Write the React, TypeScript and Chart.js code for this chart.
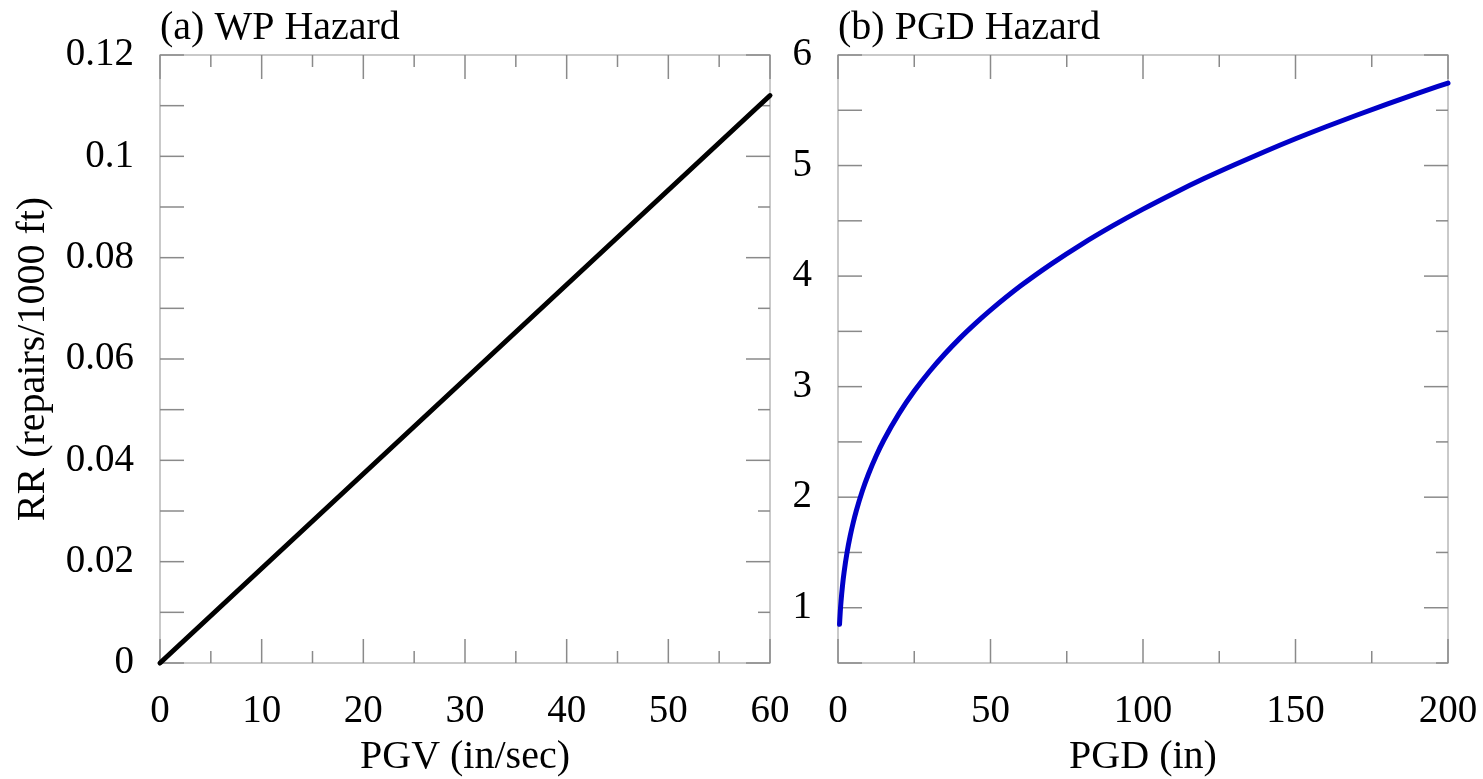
import React, { useEffect, useRef } from 'react';
import { Chart, registerables } from 'chart.js';

Chart.register(...registerables);

const FONT = "'Liberation Serif', 'Times New Roman', Times, serif";

// ---------- Panel (a) WP Hazard ----------
const pgvValues = [0, 60];
const rrWpValues = [0, 0.112];
const pgvMajorTicks = [0, 10, 20, 30, 40, 50, 60];
const pgvMinorTicks = [5, 15, 25, 35, 45, 55];
const rrWpMajorTicks = [0, 0.02, 0.04, 0.06, 0.08, 0.1, 0.12];
const rrWpTickLabels = ['0', '0.02', '0.04', '0.06', '0.08', '0.1', '0.12'];
const rrWpMinorTicks = [0.01, 0.03, 0.05, 0.07, 0.09, 0.11];

// ---------- Panel (b) PGD Hazard ----------
const pgdValues = [0.5, 0.75, 1, 1.5, 2, 3, 4, 5, 6, 8, 10, 12.5, 15, 20, 25, 30, 35, 40, 45, 50, 60, 70, 80, 90, 100, 110, 120, 130, 140, 150, 160, 170, 180, 190, 200];
const rrPgdValues = [0.850, 0.967, 1.060, 1.206, 1.322, 1.505, 1.650, 1.771, 1.877, 2.058, 2.210, 2.373, 2.515, 2.756, 2.960, 3.137, 3.295, 3.439, 3.570, 3.692, 3.914, 4.111, 4.290, 4.454, 4.606, 4.748, 4.882, 5.007, 5.127, 5.242, 5.351, 5.455, 5.556, 5.653, 5.746];
const pgdMajorTicks = [0, 50, 100, 150, 200];
const pgdMinorTicks = [25, 75, 125, 175];
const rrPgdMajorTicks = [1, 2, 3, 4, 5, 6];
const rrPgdTickLabels = ['1', '2', '3', '4', '5', '6'];
const rrPgdMinorTicks = [0.5, 1.5, 2.5, 3.5, 4.5, 5.5];

const FRAME_COLOR = '#b8b8b8';
const TICK_COLOR = '#8a8a8a';
const MAJOR_LEN = 24;
const MINOR_LEN = 12;

function makeFramePlugin(xMajor: number[], xMinor: number[], yMajor: number[], yMinor: number[]) {
  return {
    id: 'frameTicks',
    beforeDatasetsDraw(chart: any) {
      const { ctx, chartArea } = chart;
      const { left, right, top, bottom } = chartArea;
      const xs = chart.scales.x;
      const ys = chart.scales.y;
      ctx.save();
      ctx.lineWidth = 1.5;
      ctx.strokeStyle = FRAME_COLOR;
      ctx.strokeRect(left, top, right - left, bottom - top);
      ctx.strokeStyle = TICK_COLOR;
      const seg = (x1: number, y1: number, x2: number, y2: number) => {
        ctx.beginPath();
        ctx.moveTo(x1, y1);
        ctx.lineTo(x2, y2);
        ctx.stroke();
      };
      xMajor.forEach((v) => {
        const p = xs.getPixelForValue(v);
        seg(p, bottom, p, bottom - MAJOR_LEN);
        seg(p, top, p, top + MAJOR_LEN);
      });
      xMinor.forEach((v) => {
        const p = xs.getPixelForValue(v);
        seg(p, bottom, p, bottom - MINOR_LEN);
        seg(p, top, p, top + MINOR_LEN);
      });
      yMajor.forEach((v) => {
        const p = ys.getPixelForValue(v);
        seg(left, p, left + MAJOR_LEN, p);
        seg(right, p, right - MAJOR_LEN, p);
      });
      yMinor.forEach((v) => {
        const p = ys.getPixelForValue(v);
        seg(left, p, left + MAJOR_LEN, p);
        seg(right, p, right - MINOR_LEN, p);
      });
      ctx.restore();
    },
  };
}

function buildConfig(opts: {
  xs: number[]; ys: number[]; color: string; title: string;
  xMin: number; xMax: number; yMin: number; yMax: number;
  xMajor: number[]; xMinor: number[]; yMajor: number[]; yLabels: string[]; yMinor: number[];
  xTitle: string; yTitle: string | null; yAxisWidth: number; padRight: number;
}): any {
  const data = opts.xs.map((x, i) => ({ x, y: opts.ys[i] }));
  const tickFont = { family: FONT, size: 39, weight: 'normal' as const };
  const titleFont = { family: FONT, size: 40, weight: 'normal' as const };
  return {
    type: 'scatter',
    data: {
      datasets: [
        {
          data,
          showLine: true,
          borderColor: opts.color,
          backgroundColor: opts.color,
          borderWidth: 5,
          pointRadius: 0,
          borderCapStyle: 'round',
          borderJoinStyle: 'round',
          cubicInterpolationMode: 'monotone',
          clip: false,
        },
      ],
    },
    options: {
      responsive: false,
      animation: false,
      events: [],
      layout: { padding: { left: 0, right: opts.padRight, top: 0, bottom: 0 } },
      plugins: {
        legend: { display: false },
        tooltip: { enabled: false },
        title: {
          display: true,
          text: opts.title,
          align: 'start',
          fullSize: false,
          color: '#000',
          font: titleFont,
          padding: { top: 4, bottom: 3 },
        },
      },
      scales: {
        x: {
          type: 'linear',
          min: opts.xMin,
          max: opts.xMax,
          grid: { display: false, drawTicks: false },
          border: { display: false },
          afterBuildTicks: (scale: any) => {
            scale.ticks = opts.xMajor.map((v) => ({ value: v }));
          },
          afterFit: (scale: any) => {
            scale.height = 116;
            scale.paddingLeft = 0;
            scale.paddingRight = 0;
          },
          ticks: {
            autoSkip: false,
            maxRotation: 0,
            minRotation: 0,
            padding: 25,
            color: '#000',
            font: tickFont,
            callback: (v: number) => String(v),
          },
          title: {
            display: true,
            text: opts.xTitle,
            color: '#000',
            font: titleFont,
            padding: { top: 0, bottom: -2 },
          },
        },
        y: {
          type: 'linear',
          min: opts.yMin,
          max: opts.yMax,
          grid: { display: false, drawTicks: false },
          border: { display: false },
          afterBuildTicks: (scale: any) => {
            scale.ticks = opts.yMajor.map((v) => ({ value: v }));
          },
          afterFit: (scale: any) => {
            scale.width = opts.yAxisWidth;
            scale.paddingTop = 0;
            scale.paddingBottom = 0;
          },
          ticks: {
            autoSkip: false,
            padding: 26,
            color: '#000',
            font: tickFont,
            callback: (_v: number, i: number) => opts.yLabels[i],
          },
          title: {
            display: !!opts.yTitle,
            text: opts.yTitle || '',
            color: '#000',
            font: titleFont,
            padding: { top: 9, bottom: 0 },
          },
        },
      },
    },
    plugins: [makeFramePlugin(opts.xMajor, opts.xMinor, opts.yMajor, opts.yMinor)],
  };
}

export default function App() {
  const refA = useRef<HTMLCanvasElement>(null);
  const refB = useRef<HTMLCanvasElement>(null);

  useEffect(() => {
    const chartA = new Chart(
      refA.current as HTMLCanvasElement,
      buildConfig({
        xs: pgvValues, ys: rrWpValues, color: '#000000', title: '(a) WP Hazard',
        xMin: 0, xMax: 60, yMin: 0, yMax: 0.12,
        xMajor: pgvMajorTicks, xMinor: pgvMinorTicks,
        yMajor: rrWpMajorTicks, yLabels: rrWpTickLabels, yMinor: rrWpMinorTicks,
        xTitle: 'PGV (in/sec)', yTitle: 'RR (repairs/1000 ft)', yAxisWidth: 160, padRight: 30,
      })
    );
    const chartB = new Chart(
      refB.current as HTMLCanvasElement,
      buildConfig({
        xs: pgdValues, ys: rrPgdValues, color: '#0000c8', title: '(b) PGD Hazard',
        xMin: 0, xMax: 200, yMin: 0.5, yMax: 6,
        xMajor: pgdMajorTicks, xMinor: pgdMinorTicks,
        yMajor: rrPgdMajorTicks, yLabels: rrPgdTickLabels, yMinor: rrPgdMinorTicks,
        xTitle: 'PGD (in)', yTitle: null, yAxisWidth: 58, padRight: 35,
      })
    );
    return () => {
      chartA.destroy();
      chartB.destroy();
    };
  }, []);

  return (
    <div style={{ position: 'fixed', left: 0, top: 0, width: 1483, height: 779, background: '#fff', overflow: 'hidden' }}>
      <canvas ref={refA} width={800} height={779} style={{ position: 'absolute', left: 0, top: 0 }} />
      <canvas ref={refB} width={703} height={779} style={{ position: 'absolute', left: 780, top: 0 }} />
    </div>
  );
}
